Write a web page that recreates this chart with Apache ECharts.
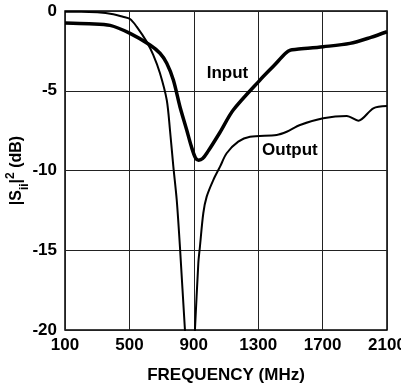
<!DOCTYPE html>
<html>
<head>
<meta charset="utf-8">
<script src="https://cdn.jsdelivr.net/npm/echarts@6/dist/echarts.min.js"></script>
<style>
  html, body { margin: 0; padding: 0; background: #fff; }
  #chart { width: 401px; height: 389px; }
</style>
</head>
<body>
<div id="chart"></div>
<script>
// frequency (MHz) and |Sii|^2 (dB)
const inputFreq = [100, 250, 380, 504, 628, 690, 732, 773, 814, 856, 885, 910, 930, 955, 985, 1063, 1145, 1311, 1400, 1470, 1500, 1540, 1704, 1870, 2000, 2100];
const inputDb = [-0.75, -0.8, -0.9, -1.4, -2.13, -2.65, -3.28, -4.33, -6.0, -7.46, -8.5, -9.2, -9.35, -9.25, -8.85, -7.6, -6.21, -4.33, -3.4, -2.65, -2.45, -2.4, -2.24, -2.03, -1.65, -1.3];

const outputFreq = [100, 200, 300, 400, 460, 504, 545, 607, 648, 690, 732, 752, 773, 794, 814, 845, 855, 898, 907, 928, 938, 959, 980, 1021, 1063, 1104, 1176, 1249, 1415, 1477, 1560, 1704, 1850, 1922, 2015, 2100];
const outputDb = [-0.05, -0.05, -0.08, -0.2, -0.36, -0.5, -0.98, -1.92, -2.75, -3.9, -5.58, -7.46, -9.76, -11.85, -14.8, -20, -21.3, -21.3, -20, -15.82, -14.78, -12.68, -11.64, -10.6, -9.76, -8.92, -8.19, -7.88, -7.77, -7.57, -7.15, -6.73, -6.58, -6.88, -6.1, -5.96];

const xTicks = [100, 500, 900, 1300, 1700, 2100];
const yTicks = [0, -5, -10, -15, -20];

const font = '"Liberation Sans", Arial, sans-serif';

function pairs(xs, ys) {
  return xs.map((x, i) => [x, ys[i]]);
}

const chart = echarts.init(document.getElementById('chart'));
chart.setOption({
  animation: false,
  grid: {
    left: 65, right: 14, top: 11, bottom: 59,
    outerBoundsMode: 'none',
    containLabel: false,
    show: true, borderColor: '#000', borderWidth: 1.5
  },
  xAxis: {
    type: 'value',
    min: xTicks[0], max: xTicks[xTicks.length - 1], interval: 400,
    axisLine: { show: false },
    axisTick: { show: false },
    splitLine: { lineStyle: { color: '#222', width: 1 } },
    axisLabel: {
      color: '#000', fontFamily: font, fontWeight: 'bold', fontSize: 17,
      margin: 7, showMaxLabel: true, showMinLabel: true, hideOverlap: false,
      formatter: v => String(v)
    },
    name: 'FREQUENCY (MHz)',
    nameLocation: 'middle',
    nameGap: 37,
    nameMoveOverlap: false,
    nameTextStyle: { color: '#000', fontFamily: font, fontWeight: 'bold', fontSize: 17 }
  },
  yAxis: {
    type: 'value',
    min: yTicks[yTicks.length - 1], max: yTicks[0], interval: 5,
    axisLine: { show: false },
    axisTick: { show: false },
    splitLine: { lineStyle: { color: '#222', width: 1 } },
    axisLabel: {
      color: '#000', fontFamily: font, fontWeight: 'bold', fontSize: 17, margin: 8,
      formatter: v => String(v)
    },
    name: '{b||S}{sub|ii}{b||}{sup|2}{b| (dB)}',
    nameLocation: 'middle',
    nameGap: 40,
    nameMoveOverlap: false,
    nameRotate: 90,
    nameTextStyle: {
      rich: {
        b: { color: '#000', fontFamily: font, fontWeight: 'bold', fontSize: 16 },
        sub: { color: '#000', fontFamily: font, fontWeight: 'bold', fontSize: 12, verticalAlign: 'bottom', padding: [0, 0, -6, 0] },
        sup: { color: '#000', fontFamily: font, fontWeight: 'bold', fontSize: 12, verticalAlign: 'top', padding: [-4, 0, 0, 0] }
      }
    }
  },
  series: [
    {
      name: 'Input',
      type: 'line',
      data: pairs(inputFreq, inputDb),
      smooth: 0.3,
      symbol: 'none',
      clip: true,
      lineStyle: { color: '#000', width: 3.5 },
      markPoint: {
        symbol: 'circle', symbolSize: 0,
        label: { show: true, formatter: 'Input', color: '#000', fontFamily: font, fontWeight: 'bold', fontSize: 17 },
        data: [{ coord: [1109, -3.89] }]
      }
    },
    {
      name: 'Output',
      type: 'line',
      data: pairs(outputFreq, outputDb),
      smooth: 0.3,
      symbol: 'none',
      clip: true,
      lineStyle: { color: '#000', width: 2 },
      markPoint: {
        symbol: 'circle', symbolSize: 0,
        label: { show: true, formatter: 'Output', color: '#000', fontFamily: font, fontWeight: 'bold', fontSize: 17 },
        data: [{ coord: [1497, -8.71] }]
      }
    }
  ]
});
</script>
</body>
</html>
